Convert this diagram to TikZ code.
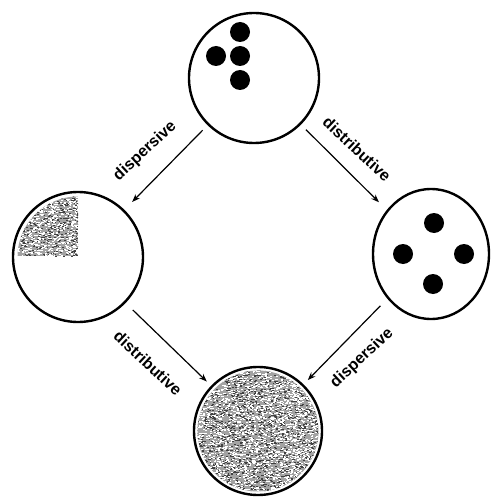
\documentclass[tikz,border=0pt]{standalone}
\usepackage{fontspec}
\setsansfont{Liberation Sans}
\usepackage{tikz}
\usetikzlibrary{arrows.meta,shapes.geometric}

\pgfmathsetseed{4711}

\begin{document}
\begin{tikzpicture}[x=1pt, y=-1pt, >={Stealth[length=8pt,width=6pt]},
    every node/.style={font=\sffamily\bfseries\fontsize{16}{16}\selectfont},
    blob/.style={draw, circle, line width=2.4pt, inner sep=0pt, minimum size=130pt},
    drop/.style={fill=black, circle, inner sep=0pt, minimum size=20pt},
    route/.style={->, line width=1.2pt}]
        \useasboundingbox (0,0) rectangle (490,497);

        \node[blob] (T) at (254,78) {};
        \node[blob] (L) at (78,257) {};
        \node[draw, ellipse, line width=2.4pt, inner sep=0pt, minimum width=116pt, minimum height=130pt] (R) at (431,254) {};
        \node[blob, minimum size=128pt] (B) at (258,431) {};

        % noise texture, bottom circle
        \begin{scope}
            \clip (B.center) circle[radius=60.5];
            \fill[black!36] (194,367) rectangle (322,495);
            \foreach \k in {1,...,2000}
                \fill[black!75] ({258+62*rand},{431+62*rand}) rectangle ++(1.8,0.9);
            \foreach \k in {1,...,2800}
                \fill[white] ({258+62*rand},{431+62*rand}) rectangle ++(1.8,0.9);
        \end{scope}

        % noise texture, quadrant of left circle
        \begin{scope}
            \clip (L.center) circle[radius=60.5];
            \clip (16,195) rectangle (78,256);
            \fill[black!36] (16,195) rectangle (78,256);
            \foreach \k in {1,...,500}
                \fill[black!75] ({47+31*rand},{225+31*rand}) rectangle ++(1.8,0.9);
            \foreach \k in {1,...,700}
                \fill[white] ({47+31*rand},{225+31*rand}) rectangle ++(1.8,0.9);
        \end{scope}

        \node[drop] (t1) at (240,32) {};
        \node[drop] (t2) at (216,56) {};
        \node[drop] (t3) at (240,56) {};
        \node[drop] (t4) at (240,80) {};

        \node[drop] (r1) at (434,223) {};
        \node[drop] (r2) at (403,254) {};
        \node[drop] (r3) at (464,254) {};
        \node[drop] (r4) at (433,284) {};

        \draw[route, shorten <=7pt, shorten >=11pt] (T) -- (L);
        \draw[route, shorten <=7pt, shorten >=11pt] (T) -- (R);
        \draw[route, shorten <=10pt, shorten >=6pt] (L) -- (B);
        \draw[route, shorten <=10pt, shorten >=6pt] (R) -- (B);

        \node[rotate=43] (lab1) at (145,151) {dispersive};
        \node[rotate=-43] (lab2) at (357,149) {distributive};
        \node[rotate=-43] (lab3) at (148,363) {distributive};
        \node[rotate=43] (lab4) at (362,358) {dispersive};
    \end{tikzpicture}
\end{document}
